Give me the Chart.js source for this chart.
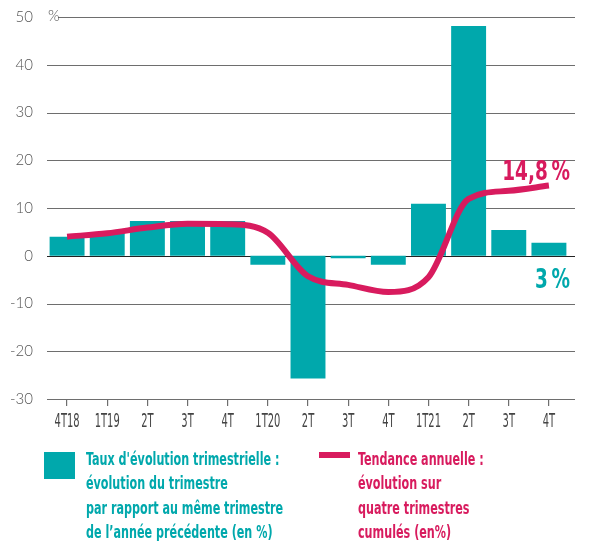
<!DOCTYPE html>
<html>
<head>
<meta charset="utf-8">
<script src="https://cdn.jsdelivr.net/npm/chart.js@4/dist/chart.umd.min.js"></script>
<style>
    html, body { margin: 0; padding: 0; background: #fff; }
    #wrap { position: relative; width: 589px; height: 541px; }
    canvas { position: absolute; left: 0; top: 0; }
    .legend-text {
        position: absolute;
        font-family: 'DejaVu Sans Condensed', 'Liberation Sans Narrow', sans-serif;
        font-weight: bold;
        font-size: 18px;
        line-height: 24.3px;
        white-space: nowrap;
        transform: scaleX(0.69);
        transform-origin: left top;
    }
    .swatch { position: absolute; }
</style>
</head>
<body>
<div id="wrap">
    <canvas id="chart" width="589" height="541"></canvas>
    <div class="swatch" style="left:44px; top:452px; width:31px; height:27px; background:#00a8ac;"></div>
    <div class="legend-text" style="left:86px; top:447px; color:#00a8ac;">Taux d'évolution trimestrielle :<br>évolution du trimestre<br>par rapport au même trimestre<br>de l’année précédente (en %)</div>
    <div class="swatch" style="left:319px; top:452px; width:31px; height:6px; background:#d81b5e;"></div>
    <div class="legend-text" style="left:358px; top:447px; color:#d81b5e;">Tendance annuelle :<br>évolution sur<br>quatre trimestres<br>cumulés (en%)</div>
</div>
<script>
// ============================================================================
// TAUX D'EVOLUTION TRIMESTRIELLE / TENDANCE ANNUELLE
// ============================================================================

const quarters = ['4T18', '1T19', '2T', '3T', '4T', '1T20', '2T', '3T', '4T', '1T21', '2T', '3T', '4T'];
const quarterlyRate = [4.0, 5.0, 7.3, 7.3, 7.3, -1.9, -25.7, -0.5, -1.9, 10.9, 48.1, 5.4, 2.7];
const annualTrend = [4.0, 4.7, 5.9, 6.7, 6.6, 4.8, -4.3, -6.1, -7.6, -4.5, 11.9, 13.6, 14.7];
const yTicks = [-30, -20, -10, 0, 10, 20, 30, 40, 50];
const lastRateLabel = '3\u202F%';
const lastTrendLabel = '14,8\u202F%';

const TEAL = '#00a8ac';
const CRIMSON = '#d81b5e';
const NARROW = '"DejaVu Sans Condensed", "Liberation Sans Narrow", sans-serif';

// draws text squeezed horizontally (the original uses a very condensed face)
function narrowText(ctx, text, x, y, squeeze, align) {
    ctx.save();
    ctx.translate(x, y);
    ctx.scale(squeeze, 1);
    ctx.textAlign = align;
    ctx.fillText(text, 0, 0);
    ctx.restore();
}

// horizontal grid lines run a bit past the last bar, like the original
const gridLines = {
    id: 'gridLines',
    beforeDatasetsDraw(chart) {
        const { ctx, scales: { x, y }, chartArea } = chart;
        ctx.save();
        yTicks.forEach(v => {
            const py = Math.round(y.getPixelForValue(v)) + 0.5;
            ctx.beginPath();
            ctx.strokeStyle = v === 0 ? '#222' : '#6e6e6e';
            ctx.lineWidth = 1.2;
            ctx.moveTo(v === 50 ? chartArea.left + 11 : chartArea.left, py);
            ctx.lineTo(575, py);
            ctx.stroke();
        });
        // "%" unit after the top tick
        ctx.fillStyle = '#555';
        ctx.font = '300 15px Lato, "Liberation Sans", sans-serif';
        ctx.textAlign = 'left';
        ctx.textBaseline = 'middle';
        ctx.fillText('%', chartArea.left + 1, y.getPixelForValue(50) - 1);

        // quarter labels under the tick marks
        ctx.fillStyle = '#444';
        ctx.font = '19px ' + NARROW;
        ctx.textBaseline = 'alphabetic';
        quarters.forEach((q, i) => {
            narrowText(ctx, q, x.getPixelForValue(i), chartArea.bottom + 28, 0.58, 'center');
        });
        ctx.restore();
    },
    afterDatasetsDraw(chart) {
        const { ctx, scales: { x, y } } = chart;
        const last = quarters.length - 1;
        const right = x.getPixelForValue(last) + 21;
        ctx.save();
        ctx.font = 'bold 27px ' + NARROW;
        ctx.textBaseline = 'alphabetic';
        ctx.fillStyle = CRIMSON;
        narrowText(ctx, lastTrendLabel, right, y.getPixelForValue(annualTrend[last]) - 6, 0.76, 'right');
        ctx.fillStyle = TEAL;
        narrowText(ctx, lastRateLabel, right, y.getPixelForValue(0) + 32, 0.76, 'right');
        ctx.restore();
    }
};

const ctx = document.getElementById('chart').getContext('2d');

new Chart(ctx, {
    data: {
        labels: quarters,
        datasets: [
            {
                type: 'line',
                label: 'Tendance annuelle',
                data: annualTrend,
                borderColor: CRIMSON,
                borderWidth: 6,
                borderJoinStyle: 'round',
                pointRadius: 0,
                cubicInterpolationMode: 'monotone',
                fill: false,
                order: 0
            },
            {
                type: 'bar',
                label: "Taux d'évolution trimestrielle",
                data: quarterlyRate,
                backgroundColor: TEAL,
                borderWidth: 0,
                barPercentage: 0.87,
                categoryPercentage: 1,
                order: 1
            }
        ]
    },
    options: {
        responsive: false,
        animation: false,
        layout: {
            padding: { top: 17, right: 20, left: 0, bottom: 0 }
        },
        plugins: {
            legend: { display: false },
            tooltip: { enabled: false }
        },
        scales: {
            x: {
                type: 'category',
                offset: true,
                afterFit: s => { s.height = 142; },
                border: { display: false },
                grid: {
                    offset: false,
                    drawOnChartArea: false,
                    drawTicks: true,
                    tickLength: 7,
                    color: '#6e6e6e',
                    lineWidth: 1.2
                },
                ticks: {
                    display: false,
                    autoSkip: false
                }
            },
            y: {
                min: -30,
                max: 50,
                afterFit: s => { s.width = 47; },
                afterBuildTicks: s => { s.ticks = yTicks.map(v => ({ value: v })); },
                border: { display: false },
                grid: { display: false },
                ticks: {
                    color: '#555',
                    padding: 6,
                    font: { family: 'Lato, "Liberation Sans", sans-serif', size: 15, weight: 300 }
                }
            }
        }
    },
    plugins: [gridLines]
});
</script>
</body>
</html>
